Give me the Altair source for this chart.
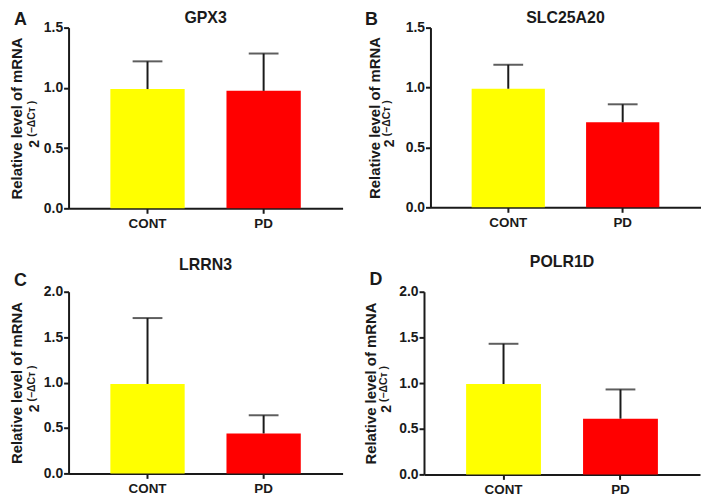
import altair as alt
import pandas as pd

groups = ["CONT", "PD"]
genes = ["GPX3", "SLC25A20", "LRRN3", "POLR1D"]
letters = ["A", "B", "C", "D"]
cont_mean = [0.99, 0.99, 0.985, 0.99]
cont_upper = [1.22, 1.19, 1.71, 1.43]
pd_mean = [0.975, 0.71, 0.44, 0.61]
pd_upper = [1.285, 0.86, 0.64, 0.93]
y_max = [1.5, 1.5, 2.0, 2.0]
y_ticks = [[0, 0.5, 1.0, 1.5], [0, 0.5, 1.0, 1.5], [0, 0.5, 1.0, 1.5, 2.0], [0, 0.5, 1.0, 1.5, 2.0]]
bar_colors = ["#FFFF00", "#FF0000"]
y_title = "Relative level of mRNA"

FONT = "Liberation Sans"
INK = "#1a1a1a"


def text_layer(txt, x, y, size, align="left", baseline="alphabetic", angle=0, weight="bold"):
    return alt.Chart(pd.DataFrame({"t": [txt]})).mark_text(
        font=FONT, fontSize=size, fontWeight=weight, color=INK,
        align=align, baseline=baseline, angle=angle
    ).encode(x=alt.value(x), y=alt.value(y), text="t:N")


def panel(i, width, height, letter_dx, letter_dy, title_dy, line1_dx, line2_dx):
    df = pd.DataFrame({
        "group": groups,
        "mean": [cont_mean[i], pd_mean[i]],
        "upper": [cont_upper[i], pd_upper[i]],
    })
    base = alt.Chart(df)
    xenc = alt.X("group:N", sort=groups,
                 scale=alt.Scale(paddingInner=0.36, paddingOuter=0.36),
                 axis=alt.Axis(title=None, labelAngle=0, labelPadding=3, labelFontSize=13.5))
    yenc = alt.Y("mean:Q",
                 scale=alt.Scale(domain=[0, y_max[i]], nice=False),
                 axis=alt.Axis(title=y_title, titleX=line1_dx, titleY=height / 2,
                               titleAngle=270, titleAlign="center", titleBaseline="middle",
                               values=y_ticks[i], format=".1f", labelPadding=1,
                               labelFontSize=14))
    bars = base.mark_bar().encode(
        x=xenc, y=yenc,
        color=alt.Color("group:N", scale=alt.Scale(domain=groups, range=bar_colors), legend=None),
    )
    whisk = base.mark_rule(color=INK, strokeWidth=2).encode(
        x=alt.X("group:N", sort=groups), y="mean:Q", y2="upper:Q")
    cap = base.mark_tick(color=INK, thickness=2, size=30).encode(
        x=alt.X("group:N", sort=groups), y="upper:Q")
    title = text_layer(genes[i], width / 2, title_dy, 16, align="center")
    letter = text_layer(letters[i], letter_dx, letter_dy, 18)
    two = text_layer("2", line2_dx, height / 2 + 30, 14, baseline="middle", angle=270)
    sup = text_layer("(−ΔCᴛ )", line2_dx - 3, height / 2 + 19, 10.5, baseline="middle", angle=270)
    return alt.layer(bars, whisk, cap, title, letter, two, sup).properties(width=width, height=height)


pA = panel(0, 276, 182, -55, -3, -5, -52, -34)
pB = panel(1, 272, 181, -66, -3, -5, -56, -41)
pC = panel(2, 276, 183, -55, -6, -22, -52, -34)
pD = panel(3, 278, 184, -55, -7, -25, -54, -37)

chart = alt.vconcat(
    alt.hconcat(pA, pB, spacing=22.5),
    alt.hconcat(pC, pD, spacing=21),
    spacing=24,
).properties(padding={"left": 2, "top": 0, "right": 0, "bottom": 0}).configure_view(
    stroke=None
).configure_axis(
    domainColor=INK, domainWidth=2, tickColor=INK, tickWidth=2, tickSize=5,
    labelFont=FONT, labelFontWeight="bold", labelColor=INK,
    titleFont=FONT, titleFontSize=15, titleFontWeight="bold", titleColor=INK,
    grid=False,
)

chart.save("out.html", embed_options={"renderer": "svg", "actions": False})
